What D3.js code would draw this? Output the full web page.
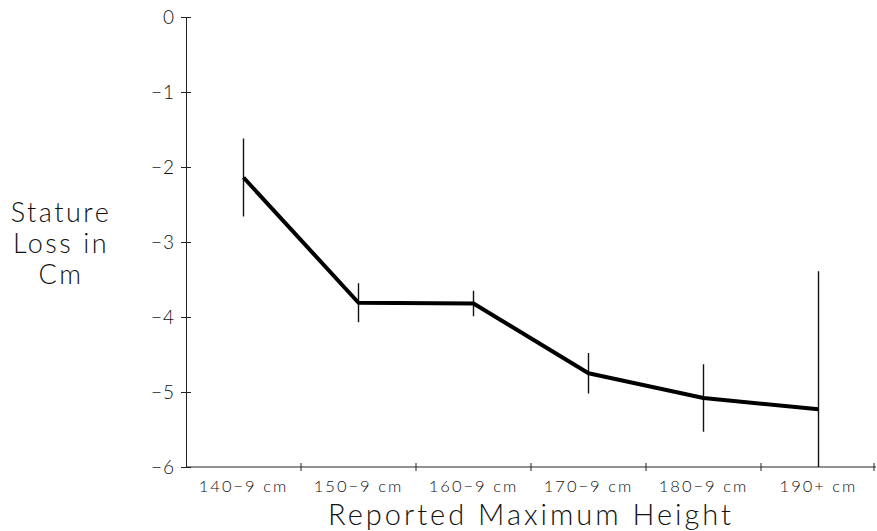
<!DOCTYPE html>
<html>
<head>
<meta charset="utf-8">
<script src="https://cdn.jsdelivr.net/npm/d3@7"></script>
<style>
  body { margin: 0; background: #fff; }
  text { font-family: "Lato", "Open Sans", "DejaVu Sans", sans-serif; font-weight: 300; fill: #111; }
  .axis path, .axis line { stroke: #222; stroke-width: 1; }
</style>
</head>
<body>
<div id="chart"></div>
<script>
// columns: height group, mean stature loss (cm), half-width of error bar

/* DATA */
const groups = ["140-9 cm", "150-9 cm", "160-9 cm", "170-9 cm", "180-9 cm", "190+ cm"]
const groupLabels = ["140\u22129 cm", "150\u22129 cm", "160\u22129 cm", "170\u22129 cm", "180\u22129 cm", "190+ cm"]
const meanLoss = [-2.14, -3.81, -3.82, -4.75, -5.08, -5.23]
const errHalf = [0.52, 0.26, 0.17, 0.27, 0.45, 1.84]
const yTicks = [0, -1, -2, -3, -4, -5, -6]

/* CONSTANTS */
const width = 877
const height = 531
const margin = { top: 17, bottom: 64, left: 186, right: 1 }

const data = groups.map((g, i) => ({ group: g, label: groupLabels[i], mean: meanLoss[i], err: errHalf[i] }))

// SCALES
const xScale = d3.scaleBand()
  .domain(groups)
  .range([margin.left, width - margin.right])

const yScale = d3.scaleLinear()
  .domain([-6, 0])
  .range([height - margin.bottom, margin.top])

// SVG
const svg = d3.select("#chart")
  .append("svg")
  .attr("width", width)
  .attr("height", height)

// Y AXIS
const yAxis = d3.axisLeft(yScale)
  .tickValues(yTicks)
  .tickFormat(d => d === 0 ? "0" : "\u2212" + Math.abs(d))
  .tickSizeOuter(0)
  .tickSize(5)
  .tickPadding(6)

const yAxisGroup = svg.append("g")
  .attr("class", "axis")
  .attr("transform", `translate(${margin.left}, 0)`)
  .call(yAxis)

yAxisGroup.selectAll(".tick line").attr("x1", 5)  // ticks cross the axis
yAxisGroup.selectAll(".tick text")
  .style("font-size", "19px")
  .style("letter-spacing", "1px")
  .attr("dy", "0.35em")

// X AXIS (line + boundary ticks, labels centred in each band)
const xAxisGroup = svg.append("g")
  .attr("class", "axis")
  .attr("transform", `translate(0, ${height - margin.bottom})`)

xAxisGroup.append("line")
  .attr("x1", margin.left)
  .attr("x2", width - margin.right)

xAxisGroup.selectAll(".bound")
  .data(groups.slice(1).map(g => xScale(g)).concat([xScale.range()[1] - 2]))
  .join("line")
    .attr("class", "bound")
    .attr("x1", d => d)
    .attr("x2", d => d)
    .attr("y1", -4)
    .attr("y2", 4)

xAxisGroup.selectAll(".xlab")
  .data(data)
  .join("text")
    .attr("class", "xlab")
    .attr("x", d => xScale(d.group) + xScale.bandwidth() / 2)
    .attr("y", 25)
    .attr("text-anchor", "middle")
    .style("font-size", "16.5px")
    .style("letter-spacing", "2px")
    .text(d => d.label)

xAxisGroup.append("text")
  .attr("x", (margin.left + width - margin.right) / 2)
  .attr("y", 58)
  .attr("text-anchor", "middle")
  .style("font-size", "29px")
  .style("letter-spacing", "3px")
  .text("Reported Maximum Height")

// Y TITLE
svg.append("text")
  .attr("text-anchor", "middle")
  .style("font-size", "27px")
  .style("letter-spacing", "2.5px")
  .selectAll("tspan")
  .data(["Stature", "Loss in", "Cm"])
  .join("tspan")
    .attr("x", 61)
    .attr("y", (d, i) => 222 + i * 31)
    .text(d => d)

// ERROR BARS
svg.selectAll(".err")
  .data(data)
  .join("line")
    .attr("class", "err")
    .attr("x1", d => xScale(d.group) + xScale.bandwidth() / 2)
    .attr("x2", d => xScale(d.group) + xScale.bandwidth() / 2)
    .attr("y1", d => yScale(d.mean + d.err))
    .attr("y2", d => yScale(Math.max(d.mean - d.err, -6)))  // clipped at axis
    .attr("stroke", "#111")
    .attr("stroke-width", 1.4)

// LINE
const line = d3.line()
  .x(d => xScale(d.group) + xScale.bandwidth() / 2)
  .y(d => yScale(d.mean))

svg.append("path")
  .datum(data)
  .attr("d", line)
  .attr("fill", "none")
  .attr("stroke", "#000")
  .attr("stroke-width", 4)
  .attr("stroke-linejoin", "round")
</script>
</body>
</html>
